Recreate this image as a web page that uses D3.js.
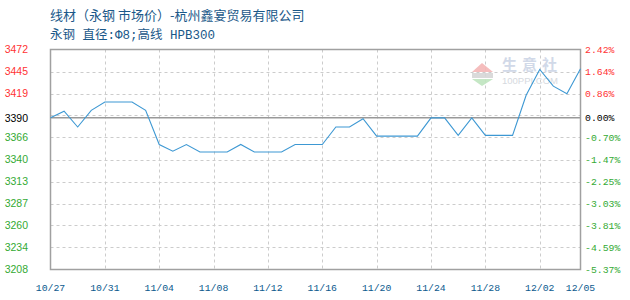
<!DOCTYPE html>
<html><head><meta charset="utf-8">
<script src="https://cdn.jsdelivr.net/npm/d3@7/dist/d3.min.js"></script>
<style>body{margin:0;background:#fff}svg{display:block}</style>
</head><body><svg id="c" width="630" height="300"></svg>
<script>
const dates = ["10/27","10/28","10/29","10/30","10/31","11/01","11/02","11/03","11/04","11/05",
  "11/06","11/07","11/08","11/09","11/10","11/11","11/12","11/13","11/14","11/15",
  "11/16","11/17","11/18","11/19","11/20","11/21","11/22","11/23","11/24","11/25",
  "11/26","11/27","11/28","11/29","11/30","12/01","12/02","12/03","12/04","12/05"];
const prices = [3390,3398,3379,3399,3409,3409,3409,3399,3358,3350,
  3358,3349,3349,3349,3358,3349,3349,3349,3358,3358,
  3358,3379,3379,3389,3368,3368,3368,3368,3390,3390,
  3369,3390,3369,3369,3369,3417,3448,3428,3419,3449];
const baseValue = 3390;
const yMin = 3208, yMax = 3472;
const leftTickLabels = ["3472","3445","3419","3390","3366","3340","3313","3287","3260","3234","3208"];
const rightTickLabels = ["2.42%","1.64%","0.86%","0.00%","-0.70%","-1.47%","-2.25%","-3.03%","-3.81%","-4.59%","-5.37%"];
const xTickLabels = ["10/27","10/31","11/04","11/08","11/12","11/16","11/20","11/24","11/28","12/02","12/05"];
const xGridLabels = ["10/31","11/04","11/08","11/12","11/16","11/20","11/24","11/28","12/02"];
const titleText = "线材（永钢 市场价）-杭州鑫宴贸易有限公司";
const subtitleText = "永钢 直径:Φ8;高线 HPB300";

const parse = s => d3.timeParse("%Y/%m/%d")("2022/" + s);
const L = 50.5, R = 580.5, T = 49.5, B = 269.5;
const svg = d3.select("#c");
const x = d3.scaleTime().domain([parse(dates[0]), parse(dates[dates.length-1])]).range([L, R]);
const y = d3.scaleLinear().domain([yMin, yMax]).range([B, T]);
const cjk = "'Noto Sans CJK SC','Noto Sans',sans-serif";
const mono = "'Liberation Mono','DejaVu Sans Mono',monospace";
const colorFor = v => Math.abs(v - baseValue) < 5 ? "#000" : (v > baseValue ? "#ff3333" : "#33aa33");

// titles
svg.append("text").attr("x", 50).attr("y", 20).attr("font-family", cjk).attr("font-size", 13)
  .attr("fill", "#1a5889").text(titleText);
svg.append("text").attr("x", 50).attr("y", 39)
  .attr("font-family", "'Liberation Mono','Noto Sans CJK SC',monospace").attr("font-size", 12.5)
  .attr("fill", "#1a5889").text(subtitleText);

// grid
const gridVals = d3.range(11).map(i => yMax - i * (yMax - yMin) / 10);
svg.append("g").selectAll("line").data(gridVals.slice(1, -1)).join("line")
  .attr("x1", L).attr("x2", R).attr("y1", d => Math.round(y(d)) + 0.5).attr("y2", d => Math.round(y(d)) + 0.5)
  .attr("stroke", "#cccccc").attr("stroke-dasharray", "3,3");
svg.append("g").selectAll("line").data(xGridLabels).join("line")
  .attr("x1", d => Math.round(x(parse(d))) + 0.5).attr("x2", d => Math.round(x(parse(d))) + 0.5)
  .attr("y1", T).attr("y2", B)
  .attr("stroke", "#cccccc").attr("stroke-dasharray", "3,3");

// watermark
const wm = svg.append("g").attr("opacity", 0.9);
wm.append("path").attr("d", "M482,63 L472,72 L493,72 Z").attr("fill", "#f4b6b6");
wm.append("rect").attr("x", 472).attr("y", 73).attr("width", 21).attr("height", 5).attr("fill", "#d6d6d6");
wm.append("path").attr("d", "M472,79 L493,79 L482,86 Z").attr("fill", "#bfe5bf");
wm.append("text").attr("x", 502).attr("y", 70).attr("font-family", cjk).attr("font-size", 15)
  .attr("font-weight", "bold").attr("letter-spacing", 5).attr("fill", "#cdd5e6").text("生意社");
wm.append("text").attr("x", 502).attr("y", 84).attr("font-family", "'Liberation Sans',sans-serif")
  .attr("font-size", 9.5).attr("fill", "#d2d6dc").text("100PPI.COM");

// base line
svg.append("line").attr("x1", L).attr("x2", R).attr("y1", y(baseValue)).attr("y2", y(baseValue))
  .attr("stroke", "#999").attr("stroke-width", 1.5);

// frame
svg.append("rect").attr("x", L).attr("y", T).attr("width", R - L).attr("height", B - T)
  .attr("fill", "none").attr("stroke", "#a0a0a0").attr("stroke-width", 1.5);

// line
const line = d3.line().x((d, i) => x(parse(dates[i]))).y(d => y(d));
svg.append("path").datum(prices).attr("d", line).attr("fill", "none")
  .attr("stroke", "#3d98d3").attr("stroke-width", 1.1);

// left / right labels
gridVals.forEach((v, i) => {
  const yy = Math.abs(v - baseValue) < 5 ? y(baseValue) : y(v);
  svg.append("text").attr("x", 28).attr("y", yy).attr("dy", "0.35em").attr("text-anchor", "end")
    .attr("font-family", "'Liberation Sans',Arial,sans-serif").attr("font-size", 10.5)
    .attr("fill", colorFor(v)).text(leftTickLabels[i]);
  svg.append("text").attr("x", 585).attr("y", yy).attr("dy", "0.35em").attr("text-anchor", "start")
    .attr("font-family", mono).attr("font-size", 9.8)
    .attr("fill", colorFor(v)).text(rightTickLabels[i]);
});

// x labels
svg.append("g").selectAll("text").data(xTickLabels).join("text")
  .attr("x", d => x(parse(d))).attr("y", 291).attr("text-anchor", "middle")
  .attr("font-family", mono).attr("font-size", 9.8).attr("fill", "#0b5a8e").text(d => d);
</script></body></html>
